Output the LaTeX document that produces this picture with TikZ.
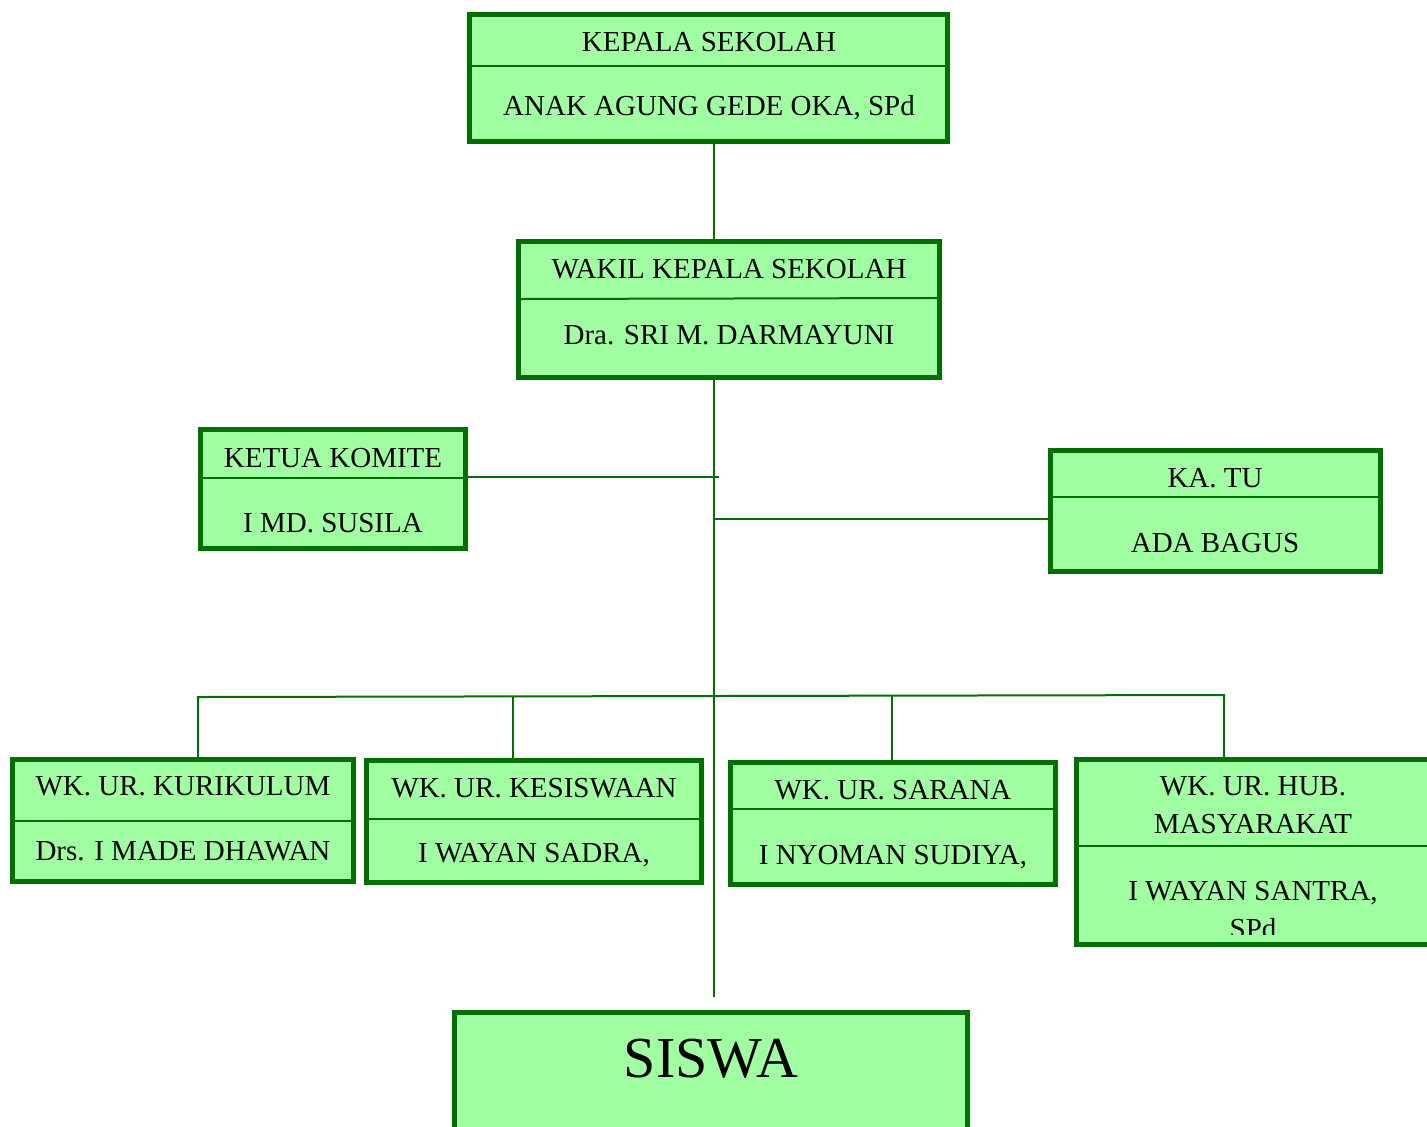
\documentclass[tikz,border=0pt]{standalone}
\usepackage{fontspec}
\setmainfont{Liberation Serif}
\usetikzlibrary{fit}
\definecolor{boxfill}{HTML}{A0FFA0}
\definecolor{boxline}{HTML}{007000}
\begin{document}
\begin{tikzpicture}[x=0.5pt,y=-0.5pt,
  orgbox/.style={draw=boxline, fill=boxfill, line width=2.5pt, inner sep=0pt, outer sep=0pt, rectangle},
  divline/.style={draw=boxline, line width=1pt},
  conn/.style={draw=boxline, line width=1pt},
  lbl/.style={anchor=base, inner sep=0pt, font=\fontsize{14.5}{17}\selectfont, text=black},
  biglbl/.style={anchor=base, inner sep=0pt, font=\fontsize{29}{34}\selectfont, text=black},
]
\useasboundingbox (0,0) rectangle (1427,1126);

% ---- box corners (centre line of the border)
\coordinate (k1) at (469.5,14.5);   \coordinate (k2) at (947.5,141.5);
\coordinate (w1) at (518.5,241.5);  \coordinate (w2) at (939.5,377.5);
\coordinate (m1) at (200.5,429.5);  \coordinate (m2) at (465.5,548.5);
\coordinate (t1) at (1050.5,450.5); \coordinate (t2) at (1380.5,571.5);
\coordinate (c1) at (12.5,759.5);   \coordinate (c2) at (353.5,881.5);
\coordinate (s1) at (366.5,760.5);  \coordinate (s2) at (701.5,882.5);
\coordinate (r1) at (730.5,762.5);  \coordinate (r2) at (1055.5,884.5);
\coordinate (h1) at (1076.5,759.5); \coordinate (h2) at (1440,944.5);
\coordinate (q1) at (454.5,1012.5); \coordinate (q2) at (967.5,1140);

% ---- connector points
\coordinate (sp) at (714,0);
\coordinate (spend) at (714,997);
\coordinate (kk) at (719,477);
\coordinate (tj) at (714,519);
\coordinate (busL) at (198,697);
\coordinate (busR) at (1224,695);
\coordinate (b2) at (513,697);
\coordinate (b3) at (892,696);

% ---- boxes
\node[orgbox, fit=(k1)(k2)] (kepala) {};
\node[orgbox, fit=(w1)(w2)] (wakil) {};
\node[orgbox, fit=(m1)(m2)] (komite) {};
\node[orgbox, fit=(t1)(t2)] (katu) {};
\node[orgbox, fit=(c1)(c2)] (kurikulum) {};
\node[orgbox, fit=(s1)(s2)] (kesiswaan) {};
\node[orgbox, fit=(r1)(r2)] (sarana) {};
\node[orgbox, fit=(h1)(h2)] (hub) {};
\node[orgbox, fit=(q1)(q2)] (siswa) {};

% ---- connectors
\draw[conn] (kepala.south -| sp) -- (wakil.north -| sp);
\draw[conn] (wakil.south -| sp) -- (spend);
\draw[conn] (komite.east |- kk) -- (kk);
\draw[conn] (tj) -- (katu.west |- tj);
\draw[conn] (kurikulum.north -| busL) -- (busL) -- (busR) -- (hub.north -| busR);
\draw[conn] (b2) -- (b2 |- kesiswaan.north);
\draw[conn] (b3) -- (b3 |- sarana.north);

% ---- dividers
\draw[divline] (kepala.west |- 0,66) -- (kepala.east |- 0,66);
\draw[divline] (wakil.west |- 0,299) -- (wakil.east |- 0,298);
\draw[divline] (komite.west |- 0,478) -- (komite.east |- 0,478);
\draw[divline] (katu.west |- 0,497) -- (katu.east |- 0,497);
\draw[divline] (kurikulum.west |- 0,821) -- (kurikulum.east |- 0,821);
\draw[divline] (kesiswaan.west |- 0,819) -- (kesiswaan.east |- 0,819);
\draw[divline] (sarana.west |- 0,809) -- (sarana.east |- 0,809);
\draw[divline] (hub.west |- 0,846) -- (hub.east |- 0,846);

% ---- labels
\node[lbl] (kepalaA) at (709,51) {KEPALA SEKOLAH};
\node[lbl] (kepalaB) at (709,115) {ANAK AGUNG GEDE OKA, SPd};
\node[lbl] (wakilA) at (729,278) {WAKIL KEPALA SEKOLAH};
\node[lbl] (wakilB) at (729,344) {Dra. SRI M. DARMAYUNI};
\node[lbl] (komiteA) at (333,467) {KETUA KOMITE};
\node[lbl] (komiteB) at (333,532) {I MD. SUSILA};
\node[lbl] (katuA) at (1215,487) {KA. TU};
\node[lbl] (katuB) at (1215,552) {ADA BAGUS};
\node[lbl] (kurA) at (183,795) {WK. UR. KURIKULUM};
\node[lbl] (kurB) at (183,860) {Drs. I MADE DHAWAN};
\node[lbl] (kesA) at (534,797) {WK. UR. KESISWAAN};
\node[lbl] (kesB) at (534,862) {I WAYAN SADRA,};
\node[lbl] (sarA) at (893,799) {WK. UR. SARANA};
\node[lbl] (sarB) at (893,864) {I NYOMAN SUDIYA,};
\node[lbl] (hubA) at (1253,795) {WK. UR. HUB.};
\node[lbl] (hubB) at (1253,833) {MASYARAKAT};
\node[lbl] (hubC) at (1253,900) {I WAYAN SANTRA,};
\begin{scope}
  \clip (1080,700) rectangle (1427,934);
  \node[lbl] (hubD) at (1253,938) {SPd};
\end{scope}
\node[biglbl] (siswaA) at (711,1077) {SISWA};
\end{tikzpicture}
\end{document}
